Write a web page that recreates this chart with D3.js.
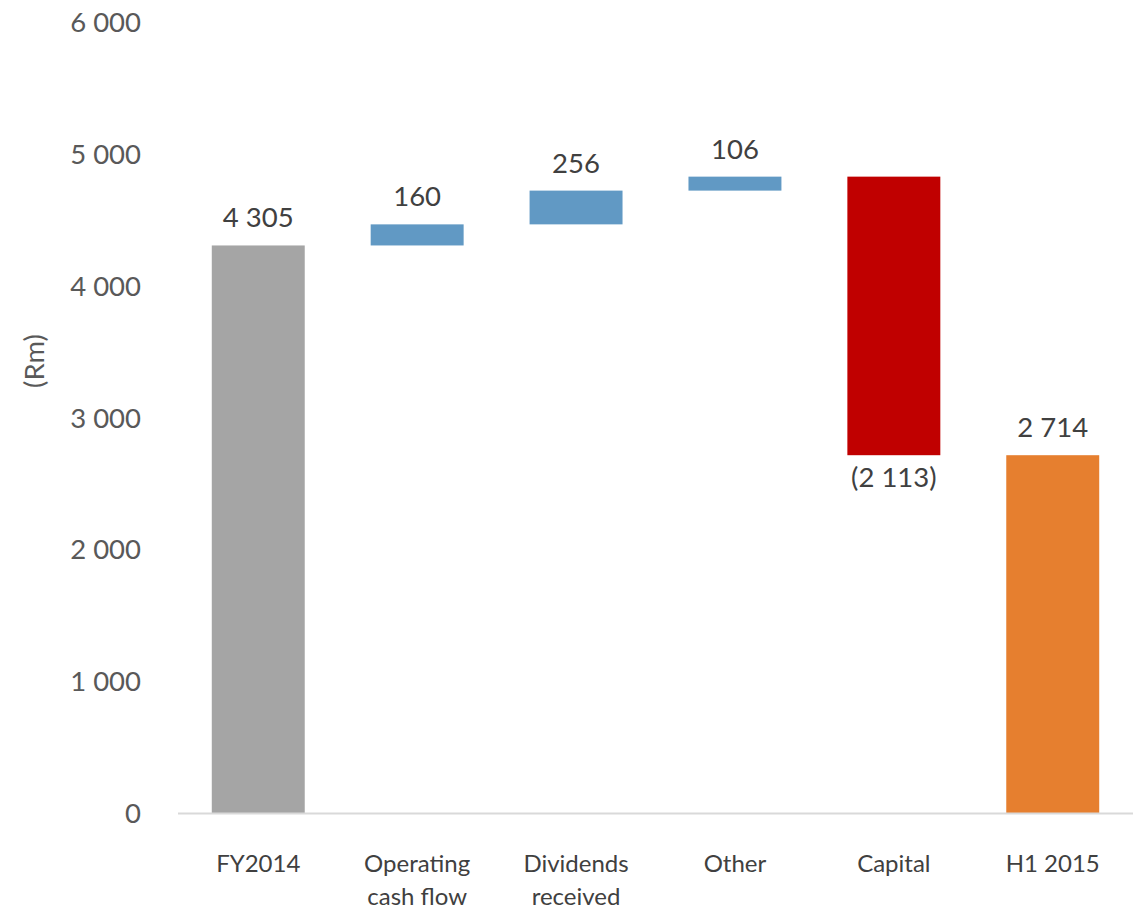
<!DOCTYPE html>
<html>
<head>
<meta charset="utf-8">
<script src="https://cdn.jsdelivr.net/npm/d3@7"></script>
<style>
  body { margin: 0; background: #fff; }
  text { font-family: Lato, "Open Sans", sans-serif; }
</style>
</head>
<body>
<div id="chart"></div>
<script>
// waterfall data
var categories = ["FY2014", "Operating\ncash flow", "Dividends\nreceived", "Other", "Capital", "H1 2015"];
var changes = [4305, 160, 256, 106, -2113, 2714];
var kinds = ["total", "delta", "delta", "delta", "delta", "total"];
var labels = ["4 305", "160", "256", "106", "(2 113)", "2 714"];
var colors = ["#A5A5A5", "#6199C4", "#6199C4", "#6199C4", "#C00000", "#E67F2F"];
var yTicks = [0, 1000, 2000, 3000, 4000, 5000, 6000];

var width = 1133, height = 909;

var svg = d3.select("#chart")
  .append("svg")
  .attr("width", width)
  .attr("height", height);

// running totals
var running = 0;
var bars = categories.map(function (c, i) {
  var start, end;
  if (kinds[i] == "total") {
    start = 0; end = changes[i]; running = changes[i];
  } else {
    start = running; end = running + changes[i]; running = end;
  }
  return { cat: c, start: start, end: end, label: labels[i], color: colors[i] };
});

var x = d3.scaleBand()
  .domain(categories)
  .range([180, 1131])
  .paddingInner(0.415)
  .paddingOuter(0.2);

var y = d3.scaleLinear()
  .domain([0, 6000])
  .range([813, 22]);

// y tick labels
svg.append("g")
  .selectAll("text")
  .data(yTicks)
  .enter()
  .append("text")
  .attr("x", 141)
  .attr("y", function (d) { return y(d) + 10; })
  .attr("text-anchor", "end")
  .attr("font-size", 27.5)
  .attr("fill", "#595959")
  .text(function (d) { return d3.format(",")(d).replace(",", " "); });

svg.append("text")
  .attr("transform", "translate(44, 361) rotate(-90)")
  .attr("text-anchor", "middle")
  .attr("font-size", 27.5)
  .attr("fill", "#595959")
  .text("(Rm)");

// bars
svg.append("g")
  .selectAll("rect")
  .data(bars)
  .enter()
  .append("rect")
  .attr("x", function (d) { return x(d.cat); })
  .attr("width", x.bandwidth())
  .attr("y", function (d) { return y(Math.max(d.start, d.end)); })
  .attr("height", function (d) { return Math.abs(y(d.start) - y(d.end)); })
  .attr("fill", function (d) { return d.color; });

// baseline
svg.append("line")
  .attr("x1", 178)
  .attr("x2", 1133)
  .attr("y1", y(0) + 0.5)
  .attr("y2", y(0) + 0.5)
  .attr("stroke", "#D9D9D9")
  .attr("stroke-width", 2);

// data labels
svg.append("g")
  .selectAll("text")
  .data(bars)
  .enter()
  .append("text")
  .attr("x", function (d) { return x(d.cat) + x.bandwidth() / 2; })
  .attr("y", function (d) {
    if (d.end < d.start) return y(d.end) + 32;
    return y(Math.max(d.start, d.end)) - 18;
  })
  .attr("text-anchor", "middle")
  .attr("font-size", 27.5)
  .attr("fill", "#404040")
  .text(function (d) { return d.label; });

// category labels
var catG = svg.append("g")
  .selectAll("text")
  .data(categories)
  .enter()
  .append("text")
  .attr("x", function (d) { return x(d) + x.bandwidth() / 2; })
  .attr("y", 872)
  .attr("text-anchor", "middle")
  .attr("font-size", 24)
  .attr("fill", "#404040");

catG.selectAll("tspan")
  .data(function (d) { return d.split("\n"); })
  .enter()
  .append("tspan")
  .attr("x", function () { return d3.select(this.parentNode).attr("x"); })
  .attr("dy", function (d, i) { return i == 0 ? 0 : 33; })
  .text(function (d) { return d; });
</script>
</body>
</html>
